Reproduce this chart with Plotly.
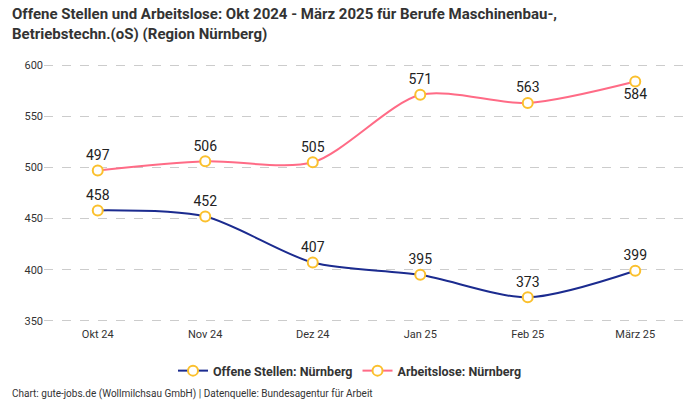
import plotly.graph_objects as go

categories = ["Okt 24", "Nov 24", "Dez 24", "Jan 25", "Feb 25", "März 25"]
offene_stellen = [458, 452, 407, 395, 373, 399]
arbeitslose = [497, 506, 505, 571, 563, 584]
y_ticks = [350, 400, 450, 500, 550, 600]

FONT = "Roboto"
fig = go.Figure()

label_pos_os = ["top center"] * 6
label_pos_al = ["top center"] * 5 + ["bottom center"]

fig.add_trace(go.Scatter(
    x=categories, y=offene_stellen, name="Offene Stellen: Nürnberg",
    mode="lines+markers+text", line=dict(color="#1b2b8f", width=2, shape="spline", smoothing=0.8),
    marker=dict(size=10, color="white", line=dict(color="#fbc02d", width=2)),
    text=[str(v) for v in offene_stellen], textposition=label_pos_os,
    textfont=dict(family=FONT, size=14, color="#222222"),
))
fig.add_trace(go.Scatter(
    x=categories, y=arbeitslose, name="Arbeitslose: Nürnberg",
    mode="lines+markers+text", line=dict(color="#ff6b86", width=2, shape="spline", smoothing=0.8),
    marker=dict(size=10, color="white", line=dict(color="#fbc02d", width=2)),
    text=[str(v) for v in arbeitslose], textposition=label_pos_al,
    textfont=dict(family=FONT, size=14, color="#222222"),
))

fig.update_layout(
    width=700, height=400,
    paper_bgcolor="white", plot_bgcolor="white",
    margin=dict(l=44, r=11, t=60, b=74),
    font=dict(family=FONT, color="#333333"),
    xaxis=dict(
        type="category", range=[-0.5, 5.5], showgrid=False, showline=False, zeroline=False,
        ticks="", tickfont=dict(family=FONT, size=11, color="#333333"),
    ),
    yaxis=dict(
        range=[345, 605], tickvals=y_ticks, showgrid=True, gridcolor="#cccccc",
        griddash="dash", gridwidth=1, zeroline=False, showline=False, ticks="",
        tickfont=dict(family=FONT, size=11, color="#333333"),
    ),
    legend=dict(
        orientation="h", xref="container", yref="container",
        x=0.5, xanchor="center", y=0.0725, yanchor="middle",
        font=dict(family=FONT, size=12.5, color="#333333", weight="bold"),
    ),
    showlegend=True,
)

fig.add_annotation(
    text="<b>Offene Stellen und Arbeitslose: Okt 2024 - März 2025 für Berufe Maschinenbau-,<br>Betriebstechn.(oS) (Region Nürnberg)</b>",
    xref="paper", yref="paper", x=-0.0527, y=1.215, xanchor="left", yanchor="top",
    align="left", showarrow=False, font=dict(family=FONT, size=15, color="#333333"),
)

fig.add_annotation(
    text="Chart: gute-jobs.de (Wollmilchsau GmbH) | Datenquelle: Bundesagentur für Arbeit",
    xref="paper", yref="paper", x=-0.0527, y=-0.224, xanchor="left", yanchor="top",
    showarrow=False, font=dict(family=FONT, size=10, color="#333333"),
)

fig.write_html(
    "out.html",
    config={"displayModeBar": False},
    post_script="document.body.style.margin='0';document.body.style.overflow='hidden';",
)
